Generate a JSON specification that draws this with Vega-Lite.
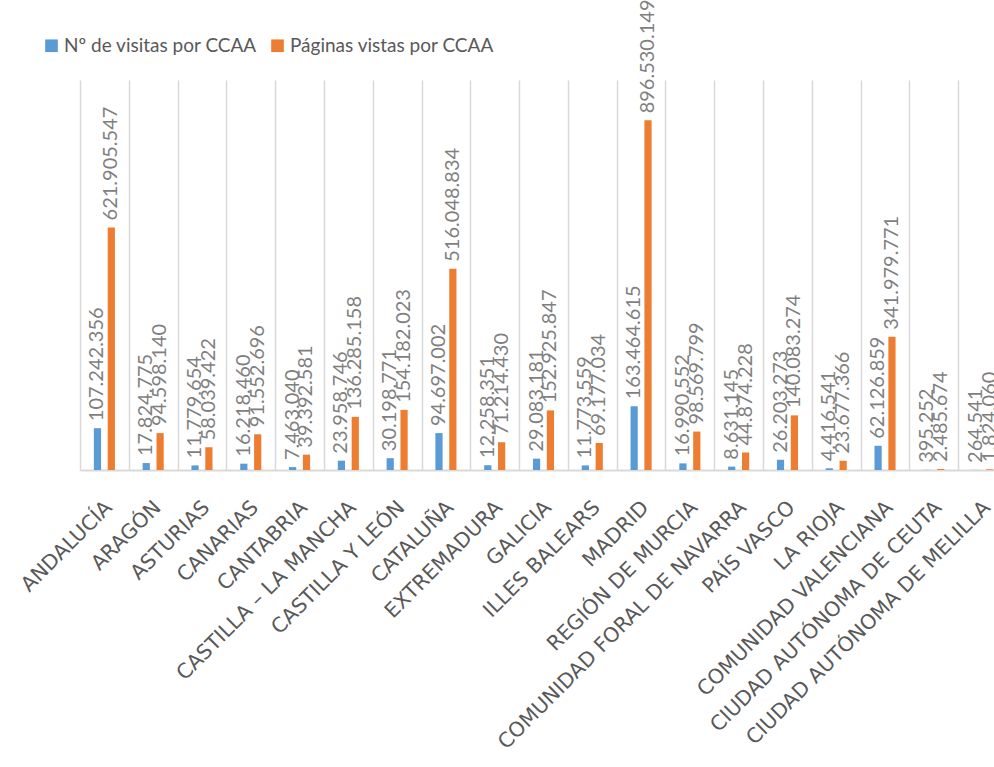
{
  "$schema": "https://vega.github.io/schema/vega-lite/v6.json",
  "autosize": {"type": "none"},
  "padding": {"left": 80, "top": 80, "right": 0, "bottom": 297},
  "width": 914,
  "height": 390,
  "background": "white",
  "config": {
    "view": {"stroke": null},
    "locale": {"number": {"decimal": ",", "thousands": ".", "grouping": [3], "currency": ["", " €"]}}
  },
  "data": {
    "values": [
      {"region": "ANDALUCÍA", "serie": "Nº de visitas por CCAA", "value": 107242356},
      {"region": "ANDALUCÍA", "serie": "Páginas vistas por CCAA", "value": 621905547},
      {"region": "ARAGÓN", "serie": "Nº de visitas por CCAA", "value": 17824775},
      {"region": "ARAGÓN", "serie": "Páginas vistas por CCAA", "value": 94598140},
      {"region": "ASTURIAS", "serie": "Nº de visitas por CCAA", "value": 11779654},
      {"region": "ASTURIAS", "serie": "Páginas vistas por CCAA", "value": 58039422},
      {"region": "CANARIAS", "serie": "Nº de visitas por CCAA", "value": 16218460},
      {"region": "CANARIAS", "serie": "Páginas vistas por CCAA", "value": 91552696},
      {"region": "CANTABRIA", "serie": "Nº de visitas por CCAA", "value": 7463040},
      {"region": "CANTABRIA", "serie": "Páginas vistas por CCAA", "value": 39392581},
      {"region": "CASTILLA – LA MANCHA", "serie": "Nº de visitas por CCAA", "value": 23958746},
      {"region": "CASTILLA – LA MANCHA", "serie": "Páginas vistas por CCAA", "value": 136285158},
      {"region": "CASTILLA Y LEÓN", "serie": "Nº de visitas por CCAA", "value": 30198771},
      {"region": "CASTILLA Y LEÓN", "serie": "Páginas vistas por CCAA", "value": 154182023},
      {"region": "CATALUÑA", "serie": "Nº de visitas por CCAA", "value": 94697002},
      {"region": "CATALUÑA", "serie": "Páginas vistas por CCAA", "value": 516048834},
      {"region": "EXTREMADURA", "serie": "Nº de visitas por CCAA", "value": 12258351},
      {"region": "EXTREMADURA", "serie": "Páginas vistas por CCAA", "value": 71214430},
      {"region": "GALICIA", "serie": "Nº de visitas por CCAA", "value": 29083181},
      {"region": "GALICIA", "serie": "Páginas vistas por CCAA", "value": 152925847},
      {"region": "ILLES BALEARS", "serie": "Nº de visitas por CCAA", "value": 11773559},
      {"region": "ILLES BALEARS", "serie": "Páginas vistas por CCAA", "value": 69177034},
      {"region": "MADRID", "serie": "Nº de visitas por CCAA", "value": 163464615},
      {"region": "MADRID", "serie": "Páginas vistas por CCAA", "value": 896530149},
      {"region": "REGIÓN DE MURCIA", "serie": "Nº de visitas por CCAA", "value": 16990552},
      {"region": "REGIÓN DE MURCIA", "serie": "Páginas vistas por CCAA", "value": 98569799},
      {"region": "COMUNIDAD FORAL DE NAVARRA", "serie": "Nº de visitas por CCAA", "value": 8631145},
      {"region": "COMUNIDAD FORAL DE NAVARRA", "serie": "Páginas vistas por CCAA", "value": 44874228},
      {"region": "PAÍS VASCO", "serie": "Nº de visitas por CCAA", "value": 26203273},
      {"region": "PAÍS VASCO", "serie": "Páginas vistas por CCAA", "value": 140083274},
      {"region": "LA RIOJA", "serie": "Nº de visitas por CCAA", "value": 4416541},
      {"region": "LA RIOJA", "serie": "Páginas vistas por CCAA", "value": 23677366},
      {"region": "COMUNIDAD VALENCIANA", "serie": "Nº de visitas por CCAA", "value": 62126859},
      {"region": "COMUNIDAD VALENCIANA", "serie": "Páginas vistas por CCAA", "value": 341979771},
      {"region": "CIUDAD AUTÓNOMA DE CEUTA", "serie": "Nº de visitas por CCAA", "value": 395252},
      {"region": "CIUDAD AUTÓNOMA DE CEUTA", "serie": "Páginas vistas por CCAA", "value": 2485674},
      {"region": "CIUDAD AUTÓNOMA DE MELILLA", "serie": "Nº de visitas por CCAA", "value": 264541},
      {"region": "CIUDAD AUTÓNOMA DE MELILLA", "serie": "Páginas vistas por CCAA", "value": 1824060}
    ]
  },
  "encoding": {
    "x": {
      "field": "region",
      "type": "nominal",
      "sort": null,
      "scale": {"range": [0, 927], "paddingInner": 0, "paddingOuter": 0},
      "axis": {
        "title": null,
        "labelAngle": -45,
        "labelFont": "DejaVu Sans",
        "labelFontSize": 20.5,
        "labelColor": "#595959",
        "labelPadding": 27,
        "labelOffset": -3,
        "labelLimit": 600,
        "labelOverlap": false,
        "ticks": false,
        "tickBand": "extent",
        "grid": true,
        "gridColor": "#d9d9d9",
        "gridWidth": 1.5,
        "domainColor": "#d9d9d9",
        "domainWidth": 2
      }
    },
    "xOffset": {
      "field": "serie",
      "type": "nominal",
      "scale": {"domain": ["Nº de visitas por CCAA", "Páginas vistas por CCAA"], "paddingInner": 0.48, "paddingOuter": 1.215}
    },
    "y": {
      "field": "value",
      "type": "quantitative",
      "scale": {"domain": [0, 1000000000], "nice": false},
      "axis": null
    }
  },
  "layer": [
    {
      "mark": {"type": "bar"},
      "encoding": {
        "color": {
          "field": "serie",
          "type": "nominal",
          "scale": {"domain": ["Nº de visitas por CCAA", "Páginas vistas por CCAA"], "range": ["#5b9bd5", "#ed7d31"]},
          "legend": {
            "title": null,
            "orient": "none",
            "direction": "horizontal",
            "legendX": -38,
            "legendY": -44,
            "symbolType": "square",
            "symbolSize": 160,
            "symbolStrokeWidth": 0,
            "labelFont": "Lato",
            "labelFontSize": 19,
            "labelColor": "#595959",
            "labelOffset": 3,
            "columnPadding": 10,
            "labelLimit": 400,
            "padding": 0
          }
        }
      }
    },
    {
      "mark": {"type": "text", "angle": 270, "align": "left", "baseline": "middle", "dx": 7, "font": "Lato", "fontSize": 20, "color": "#7f7f7f"},
      "encoding": {
        "text": {"field": "value", "type": "quantitative", "format": ",d"}
      }
    }
  ]
}
